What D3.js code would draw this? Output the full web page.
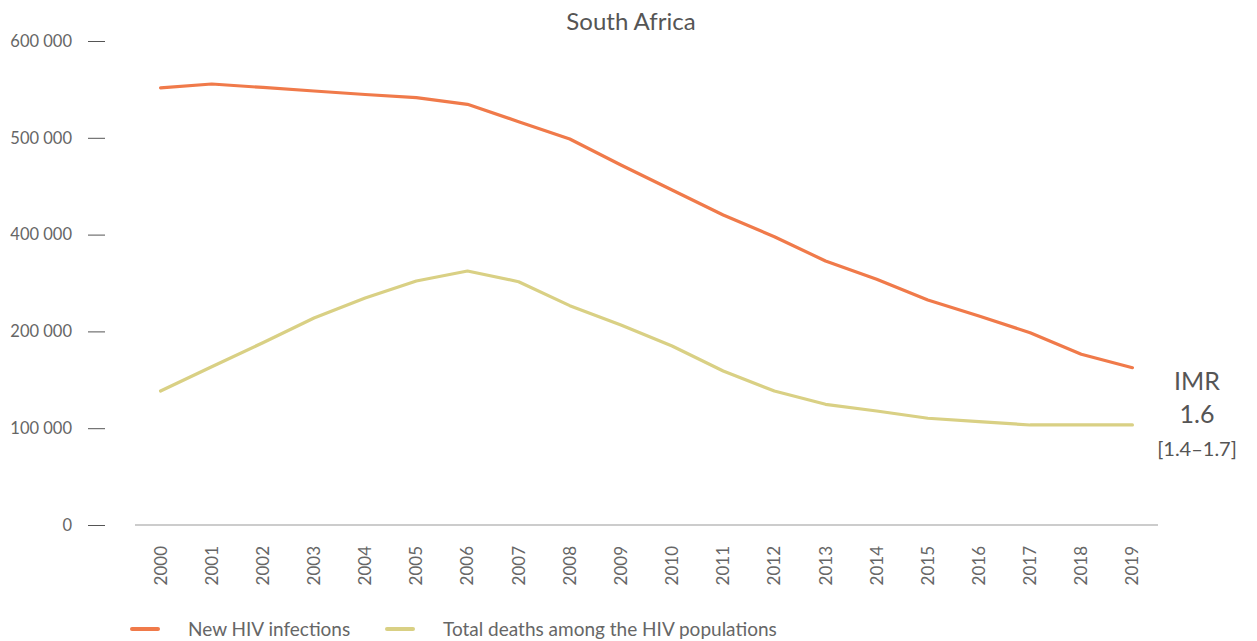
<!DOCTYPE html>
<html lang="en">
<head>
<meta charset="utf-8">
<title>South Africa</title>
<script src="https://d3js.org/d3.v7.min.js"></script>
<style>
body { margin: 0; background: #fff; }
text { font-family: Lato, "Open Sans", sans-serif; fill: #666; }
</style>
</head>
<body>
<script>

// data
var years = [2000, 2001, 2002, 2003, 2004, 2005, 2006, 2007, 2008, 2009,
             2010, 2011, 2012, 2013, 2014, 2015, 2016, 2017, 2018, 2019];
var newInfections = [542000, 546700, 542400, 538000, 533700, 529700, 521500, 500000, 478500, 446300,
                     415300, 384300, 357400, 327300, 304600, 278900, 259100, 238400, 211600, 195000];
var totalDeaths = [166100, 196200, 226000, 256600, 281400, 302500, 314900, 301600, 271900, 247900,
                   221900, 190900, 166100, 149600, 141300, 132300, 128100, 124000, 124000, 124000];
var tickValues = [0, 120000, 240000, 360000, 480000, 600000];
var tickLabels = ["0", "100 000", "200 000", "400 000", "500 000", "600 000"];
var seriesNames = ["New HIV infections", "Total deaths among the HIV populations"];
var colors = ["#f07a4a", "#d9d084"];

var W = 1257, H = 641;
var svg = d3.select("body").append("svg")
  .attr("width", W)
  .attr("height", H);

var x = d3.scaleBand().domain(years).range([135, 1158]);
var y = d3.scaleLinear().domain([0, 600000]).range([525, 41]);

// title
svg.append("text")
  .attr("x", 631).attr("y", 30)
  .attr("text-anchor", "middle")
  .style("font-size", "24px")
  .style("fill", "#555")
  .text("South Africa");

// y axis: labels + dash marks, no domain line
var yAxis = svg.append("g")
  .attr("transform", "translate(105,0)")
  .call(d3.axisLeft(y).tickValues(tickValues).tickSize(17).tickPadding(16)
    .tickFormat(function(d, i) { return tickLabels[i]; }));
yAxis.select(".domain").remove();
yAxis.selectAll("line").attr("stroke", "#555");
yAxis.selectAll("text").style("font-size", "16.5px").style("font-family", "Lato, sans-serif").attr("fill", "#666");

// x axis baseline
svg.append("line")
  .attr("x1", 135).attr("x2", 1158)
  .attr("y1", y(0)).attr("y2", y(0))
  .attr("stroke", "#999").attr("stroke-width", 1);

// x labels
svg.append("g").selectAll("text")
  .data(years)
  .enter().append("text")
  .attr("transform", function(d) {
    return "translate(" + (x(d) + x.bandwidth() / 2 + 6) + ",546) rotate(-90)";
  })
  .attr("text-anchor", "end")
  .style("font-size", "17px")
  .text(function(d) { return d; });

var line = d3.line()
  .x(function(d, i) { return x(years[i]) + x.bandwidth() / 2; })
  .y(function(d) { return y(d); });

[newInfections, totalDeaths].forEach(function(s, i) {
  svg.append("path")
    .datum(s)
    .attr("fill", "none")
    .attr("stroke", colors[i])
    .attr("stroke-width", 3.2)
    .attr("stroke-linejoin", "round")
    .attr("stroke-linecap", "round")
    .attr("d", line);
});

// IMR note
svg.append("text").attr("x", 1197).attr("y", 390).attr("text-anchor", "middle")
  .style("font-size", "25px").style("fill", "#555").text("IMR");
svg.append("text").attr("x", 1197).attr("y", 423).attr("text-anchor", "middle")
  .style("font-size", "25px").style("fill", "#555").text("1.6");
svg.append("text").attr("x", 1197).attr("y", 456).attr("text-anchor", "middle")
  .style("font-size", "20px").style("fill", "#555").text("[1.4\u20131.7]");

// legend
var legX = [130, 385];
seriesNames.forEach(function(n, i) {
  svg.append("line")
    .attr("x1", legX[i] + 2).attr("x2", legX[i] + 28)
    .attr("y1", 629).attr("y2", 629)
    .attr("stroke", colors[i]).attr("stroke-width", 4)
    .attr("stroke-linecap", "round");
  svg.append("text")
    .attr("x", legX[i] + 58).attr("y", 636)
    .style("font-size", "19px")
    .text(n);
});

</script>
</body>
</html>
